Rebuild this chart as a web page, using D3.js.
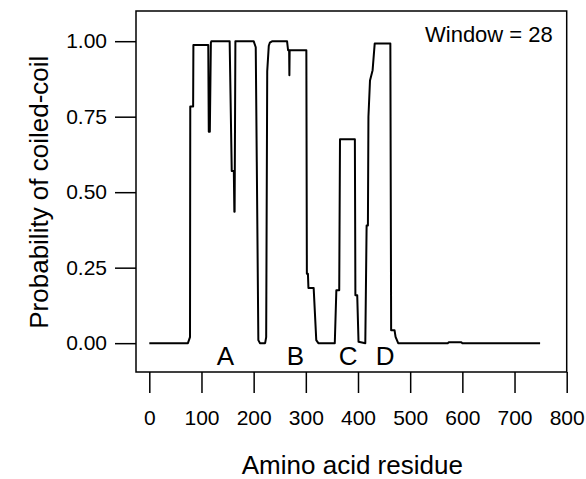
<!DOCTYPE html>
<html>
<head>
<meta charset="utf-8">
<script src="https://cdn.jsdelivr.net/npm/d3@7"></script>
<style>
  html, body { margin: 0; padding: 0; background: #fff; }
  svg text { font-family: "Liberation Sans", Arial, Helvetica, sans-serif; fill: #000; }
</style>
</head>
<body>
<svg id="chart" width="586" height="479"></svg>
<script>
// ─── DATA ─────────────────────────────────────────────────────────────────────

// residue positions and coiled-coil probabilities
const residues = [
  0, 74, 76, 78, 78.5, 84, 84.5, 113, 114, 116, 118, 119,
  154, 158, 162, 163, 163.5, 165, 200, 204, 206, 209, 212,
  222, 224, 226, 229, 231, 236, 264, 266, 268, 268.5, 269,
  301, 302, 304, 305, 315, 320, 324, 355.5, 358.5, 364, 365.5,
  394, 395, 398.5, 401, 414, 416.5, 419, 420, 423, 428, 432,
  462, 463.5, 470, 472, 477, 572, 574, 598, 600, 749
];
const probability = [
  0, 0, 0.01, 0.02, 0.784, 0.784, 0.987, 0.987, 0.70, 0.70, 0.995, 1.0,
  1.0, 0.57, 0.57, 0.435, 0.435, 1.0, 1.0, 0.98, 0.6, 0.01, 0.0,
  0.0, 0.02, 0.9, 0.985, 0.995, 1.0, 1.0, 0.97, 0.97, 0.887, 0.97,
  0.97, 0.23, 0.23, 0.183, 0.183, 0.01, 0.0, 0.0, 0.175, 0.175, 0.675,
  0.675, 0.159, 0.159, 0.005, 0.0, 0.39, 0.39, 0.75, 0.87, 0.904, 0.992,
  0.992, 0.043, 0.043, 0.021, 0.0, 0.0, 0.003, 0.003, 0.0, 0.0
];

const xTicks = [0, 100, 200, 300, 400, 500, 600, 700, 800];
const yTicks = [0, 0.25, 0.5, 0.75, 1.0];

// region labels under the peaks
const regionNames = ["A", "B", "C", "D"];
const regionPos   = [146, 280, 381, 452];

// ─── SCALES ───────────────────────────────────────────────────────────────────

const frame = { left: 136, right: 566.7, top: 11, bottom: 372 };

const svg = d3.select("#chart");

const x = d3.scaleLinear().domain([-25.5, 800]).range([frame.left, frame.right]);
const y = d3.scaleLinear().domain([-0.0955, 1.1]).range([frame.bottom, frame.top]);

// ─── FRAME + AXES ─────────────────────────────────────────────────────────────

svg.append("rect")
  .attr("x", frame.left).attr("y", frame.top)
  .attr("width", frame.right - frame.left)
  .attr("height", frame.bottom - frame.top)
  .attr("fill", "none")
  .attr("stroke", "#000")
  .attr("stroke-width", 1.5);

const xAxis = svg.append("g")
  .attr("transform", `translate(0,${frame.bottom})`)
  .call(d3.axisBottom(x).tickValues(xTicks).tickSize(21).tickPadding(13).tickFormat(d3.format("d")));

const yAxis = svg.append("g")
  .attr("transform", `translate(${frame.left},0)`)
  .call(d3.axisLeft(y).tickValues(yTicks).tickSize(21).tickPadding(8).tickFormat(d3.format(".2f")));

[xAxis, yAxis].forEach(ax => {
  ax.select(".domain").remove();
  ax.selectAll(".tick line").attr("stroke", "#000").attr("stroke-width", 1.5);
  ax.selectAll(".tick text").style("font-size", "21px").attr("fill", "#000");
});
xAxis.selectAll(".tick text").attr("dy", "0.9em");

// ─── TRACE ────────────────────────────────────────────────────────────────────

const points = residues.map((r, i) => [r, probability[i]]);

svg.append("path")
  .datum(points)
  .attr("fill", "none")
  .attr("stroke", "#000")
  .attr("stroke-width", 2)
  .attr("stroke-linejoin", "round")
  .attr("d", d3.line().x(d => x(d[0])).y(d => y(d[1])));

// ─── LABELS ───────────────────────────────────────────────────────────────────

svg.selectAll(".region")
  .data(regionNames)
  .enter().append("text")
  .attr("class", "region")
  .attr("x", (d, i) => x(regionPos[i]))
  .attr("y", 365)
  .attr("text-anchor", "middle")
  .style("font-size", "26px")
  .text(d => d);

svg.append("text")
  .attr("x", 425).attr("y", 42)
  .style("font-size", "22px")
  .text("Window = 28");

svg.append("text")
  .attr("x", (frame.left + frame.right) / 2 + 1)
  .attr("y", 474)
  .attr("text-anchor", "middle")
  .style("font-size", "26px")
  .text("Amino acid residue");

svg.append("text")
  .attr("transform", `translate(48,${(y(0) + y(1)) / 2}) rotate(-90)`)
  .attr("text-anchor", "middle")
  .style("font-size", "26px")
  .text("Probability of coiled-coil");
</script>
</body>
</html>
